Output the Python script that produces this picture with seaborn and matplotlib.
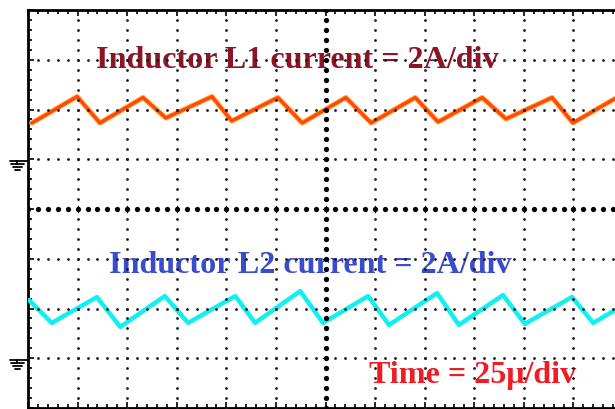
import numpy as np
import matplotlib
matplotlib.use("Agg")
import matplotlib.pyplot as plt
import matplotlib.patheffects as pe
import seaborn as sns

# ---- data (time in divisions, current in divisions) ----
t_l1 = [0.08, 0.99, 1.45, 2.32, 2.78, 3.71, 4.11, 5.04, 5.53, 6.41, 6.92, 7.81, 8.27, 9.16, 9.64, 10.57, 10.99, 11.84]
i_l1 = [5.73, 6.26, 5.73, 6.24, 5.83, 6.26, 5.77, 6.24, 5.73, 6.24, 5.73, 6.24, 5.75, 6.24, 5.81, 6.24, 5.73, 6.22]
t_l2 = [0.02, 0.48, 1.39, 1.86, 2.76, 3.23, 4.18, 4.58, 5.49, 5.95, 6.86, 7.28, 8.25, 8.69, 9.58, 10.02, 10.97, 11.40, 11.84]
i_l2 = [2.17, 1.71, 2.23, 1.63, 2.25, 1.71, 2.25, 1.71, 2.35, 1.71, 2.25, 1.67, 2.31, 1.67, 2.27, 1.69, 2.23, 1.71, 1.97]
labels = ["Inductor L1 current = 2A/div", "Inductor L2 current = 2A/div", "Time = 25\u03bc/div"]
ground_levels = [5.0, 1.0]

sns.set_theme(style="white")
plt.rcParams['font.family'] = ['Liberation Serif', 'DejaVu Serif']

W, H = 615, 409
fig = plt.figure(figsize=(W / 100, H / 100), dpi=100)
fig.patch.set_facecolor("white")
x0, x1, y0, y1 = 28, 623, 10, 408
ax = fig.add_axes([x0 / W, 1 - y1 / H, (x1 - x0) / W, (y1 - y0) / H])
ax.set_xlim(0, 12)
ax.set_ylim(0, 8)
ax.set_facecolor("white")

# labels (behind grid)
ax.text(5.43, 6.83, labels[0], color="#8a1527", fontsize=23.1, fontweight="bold",
        ha="center", va="baseline", zorder=1)
ax.text(5.69, 2.71, labels[1], color="#3a4ccc", fontsize=23.1, fontweight="bold",
        ha="center", va="baseline", zorder=1)
ax.text(8.96, 0.50, labels[2], color="#ee1c25", fontsize=23.1, fontweight="bold",
        ha="center", va="baseline", zorder=1)

# traces
sns.lineplot(x=t_l1, y=i_l1, ax=ax, color="#ff4a00", linewidth=2.4, estimator=None, sort=False,
             path_effects=[pe.Stroke(linewidth=3.8, foreground="#ffb060"), pe.Normal()], zorder=3)
sns.lineplot(x=t_l2, y=i_l2, ax=ax, color="#10f0f0", linewidth=3.2, estimator=None, sort=False, zorder=3)

# dotted graticule
steps = np.arange(0, 8.001, 0.2)
xsteps = np.arange(0, 12.001, 0.2)
for k in range(1, 12):
    if k == 6:
        continue
    ax.plot(np.full_like(steps, k), steps, ls="none", marker="o", ms=2.0, mew=0, color="#1a1a1a", zorder=4)
for k in range(1, 8):
    if k == 4:
        continue
    ax.plot(xsteps, np.full_like(xsteps, k), ls="none", marker="o", ms=2.0, mew=0, color="#1a1a1a", zorder=4)
# center axes with bigger dots
ax.plot(np.full_like(steps, 6), steps, ls="none", marker="o", ms=3.8, mew=0, color="black", zorder=5)
ax.plot(xsteps, np.full_like(xsteps, 4), ls="none", marker="o", ms=3.8, mew=0, color="black", zorder=5)
for k in range(0, 13):
    ax.plot([k, k], [3.93, 4.07], color="black", lw=1.0, zorder=5)
for k in range(0, 9):
    ax.plot([5.95, 6.05], [k, k], color="black", lw=1.0, zorder=5)

# frame
for s in ax.spines.values():
    s.set_color("black")
    s.set_linewidth(2.0)
ax.set_xticks(range(0, 13))
ax.set_yticks(range(0, 9))
ax.set_xticks(xsteps, minor=True)
ax.set_yticks(steps, minor=True)
ax.tick_params(which="both", direction="in", top=True, right=True, left=True, bottom=True,
               labelleft=False, labelbottom=False, color="black")
ax.tick_params(which="major", length=4, width=1.2)
ax.tick_params(which="minor", length=3, width=1.2)

# ground markers
for g in ground_levels:
    ax.plot([-0.37, 0], [g - 0.03, g - 0.03], color="black", lw=1.3, clip_on=False, zorder=6)
    ax.plot([-0.22, -0.22], [g - 0.03, g - 0.09], color="black", lw=1.3, clip_on=False, zorder=6)
    for j, w in enumerate([0.13, 0.09, 0.05]):
        yy = g - 0.10 - j * 0.06
        ax.plot([-0.22 - w, -0.22 + w], [yy, yy], color="black", lw=1.3, clip_on=False, zorder=6)

fig.savefig("out.png", dpi=100, facecolor="white")
